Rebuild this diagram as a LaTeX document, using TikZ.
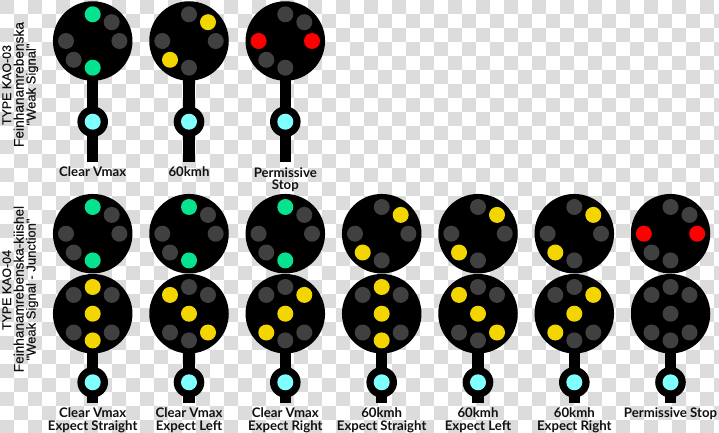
\documentclass[tikz,border=0pt]{standalone}
\usepackage{fontspec}
\setmainfont{Lato}
\newfontfamily\sidefont[FakeBold=0.25]{Liberation Sans}
\definecolor{chk}{HTML}{DCDCDC}
\definecolor{lg}{HTML}{05E38E}
\definecolor{ly}{HTML}{F3D600}
\definecolor{lr}{HTML}{FF0000}
\definecolor{ld}{HTML}{404040}
\definecolor{lc}{HTML}{80FFFF}
\definecolor{ink}{HTML}{111111}
\tikzset{
  lamp/.style={circle,minimum size=16pt,inner sep=0pt,fill=#1},
  headdisc/.style={circle,minimum size=79.5pt,inner sep=0pt,fill=black},
  ringdisc/.style={circle,minimum size=30.6pt,inner sep=0pt,fill=black},
  postline/.style={line width=11.3pt,black},
  lab/.style={font=\bfseries\fontsize{13.2}{12.7}\selectfont,text=ink,align=center,inner sep=0pt,text depth=0pt},
  side/.style={font=\sidefont\fontsize{#1}{12}\selectfont,text=ink,rotate=90,inner sep=0pt,anchor=base}
}
% centre x, centre y, top, upper right, right, bottom, lower left, left
\newcommand{\headsix}[8]{
  \node[headdisc] at (#1,#2) {};
  \node[lamp=#3] at (#1,#2-26.7) {};
  \node[lamp=#4] at (#1+19,#2-18.8) {};
  \node[lamp=#5] at (#1+26.7,#2) {};
  \node[lamp=#6] at (#1,#2+26.7) {};
  \node[lamp=#7] at (#1-19,#2+18.8) {};
  \node[lamp=#8] at (#1-26.7,#2) {};
}
% centre x, centre y, top, upper left, upper right, centre, lower left, lower right, bottom
\newcommand{\headseven}[9]{
  \node[headdisc] at (#1,#2) {};
  \node[lamp=#3] at (#1,#2-26.7) {};
  \node[lamp=#4] at (#1-19,#2-18.8) {};
  \node[lamp=#5] at (#1+19,#2-18.8) {};
  \node[lamp=#6] at (#1,#2) {};
  \node[lamp=#7] at (#1-19,#2+18.8) {};
  \node[lamp=#8] at (#1+19,#2+18.8) {};
  \node[lamp=#9] at (#1,#2+26.7) {};
}
% x, top of post, bottom of post, ring y
\newcommand{\mast}[4]{
  \draw[postline] (#1,#2) -- (#1,#3);
  \node[ringdisc] at (#1,#4) {};
  \node[lamp=lc] at (#1,#4) {};
}
\begin{document}
\begin{tikzpicture}[x=1pt,y=-1pt]
\useasboundingbox (0,0) rectangle (719,433);
\clip (0,0) rectangle (719,433);
\fill[white] (0,0) rectangle (719,433);
\foreach \c in {0,...,51}{
  \foreach \r in {0,...,30}{
    \pgfmathparse{int(mod(\c+\r,2))}
    \ifnum\pgfmathresult=0
      \fill[chk] (\c*14,\r*14) rectangle ++(14,14);
    \fi
  }
}
% row one
\mast{92.7}{60}{161.7}{121.7}
\mast{189}{60}{161.7}{121.7}
\mast{285.3}{60}{161.7}{121.7}
\headsix{92.7}{41}{lg}{ld}{ld}{lg}{ld}{ld}
\headsix{189}{41}{ld}{ly}{ld}{ld}{ly}{ld}
\headsix{285.3}{41}{ld}{ld}{lr}{ld}{ld}{lr}
\node[lab] (a1) at (92.7,172) {Clear Vmax};
\node[lab] (a2) at (189,172) {60kmh};
\node[lab] (a3) at (285.3,178.5) {Permissive\\Stop};
% row two
\foreach \x in {92.7,189,285.3,381.7,478,574.3,670.5}{
  \mast{\x}{330}{403.3}{382.3}
}
\headsix{92.7}{233.7}{lg}{ld}{ld}{lg}{ld}{ld}
\headseven{92.7}{313.7}{ly}{ld}{ld}{ly}{ld}{ld}{ly}
\headsix{189}{233.7}{lg}{ld}{ld}{lg}{ld}{ld}
\headseven{189}{313.7}{ld}{ly}{ld}{ly}{ld}{ly}{ld}
\headsix{285.3}{233.7}{lg}{ld}{ld}{lg}{ld}{ld}
\headseven{285.3}{313.7}{ld}{ld}{ly}{ly}{ly}{ld}{ld}
\headsix{381.7}{233.7}{ld}{ly}{ld}{ld}{ly}{ld}
\headseven{381.7}{313.7}{ly}{ld}{ld}{ly}{ld}{ld}{ly}
\headsix{478}{233.7}{ld}{ly}{ld}{ld}{ly}{ld}
\headseven{478}{313.7}{ld}{ly}{ld}{ly}{ld}{ly}{ld}
\headsix{574.3}{233.7}{ld}{ly}{ld}{ld}{ly}{ld}
\headseven{574.3}{313.7}{ld}{ld}{ly}{ly}{ly}{ld}{ld}
\headsix{670.5}{233.7}{ld}{ld}{lr}{ld}{ld}{lr}
\headseven{670.5}{313.7}{ld}{ld}{ld}{ld}{ld}{ld}{ld}
\node[lab] (b1) at (92.7,419) {Clear Vmax\\Expect Straight};
\node[lab] (b2) at (189,419) {Clear Vmax\\Expect Left};
\node[lab] (b3) at (285.3,419) {Clear Vmax\\Expect Right};
\node[lab] (b4) at (381.7,419) {60kmh\\Expect Straight};
\node[lab] (b5) at (478,419) {60kmh\\Expect Left};
\node[lab] (b6) at (574.3,419) {60kmh\\Expect Right};
\node[lab] (b7) at (670.5,412.7) {Permissive Stop};
% side labels
\node[side=12.4] (s1) at (11,85) {TYPE KAO-03};
\node[side=13.7] (s2) at (23.5,84.5) {Feinhanamrebenska};
\node[side=13] (s3) at (35.5,84.5) {"Weak Signal"};
\node[side=12.4] (s4) at (11,290) {TYPE KAO-04};
\node[side=13.6] (s5) at (23.5,289) {Feinhanamrebenska-kiishel};
\node[side=13] (s6) at (35.5,289.5) {"Weak Signal - Junction"};
\end{tikzpicture}
\end{document}
